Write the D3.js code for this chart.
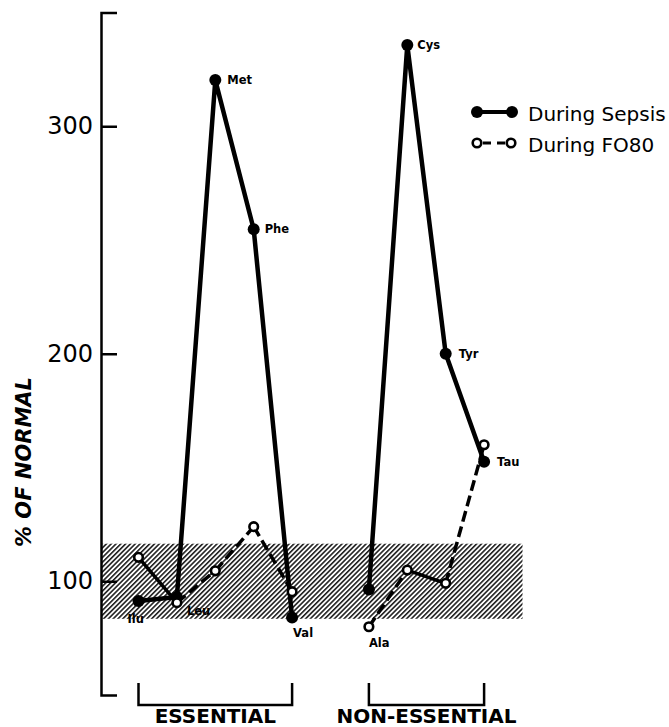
<!DOCTYPE html>
<html>
<head>
<meta charset="utf-8">
<script src="https://cdn.jsdelivr.net/npm/d3@7"></script>
<style>
  body { margin: 0; background: #fff; }
  svg { display: block; }
</style>
</head>
<body>
<svg id="chart" width="669" height="727"></svg>
<script>
// Plasma amino acids, % of normal
const essentialAminoAcids = ["Ilu", "Leu", "Met", "Phe", "Val"];
const nonEssentialAminoAcids = ["Ala", "Cys", "Tyr", "Tau"];
const sepsisEssential = [91.3, 93.1, 320.3, 254.7, 84.1];
const sepsisNonEssential = [96.4, 335.7, 200, 152.5];
const fo80Essential = [110.5, 90.6, 104.6, 124.0, 95.4];
const fo80NonEssential = [80.0, 104.9, 99.1, 160];
const normalRange = [83.5, 116.5];
const yTickValues = [100, 200, 300];
const groupNames = ["ESSENTIAL", "NON-ESSENTIAL"];
const seriesNames = ["During Sepsis", "During FO80"];

// Layout: label offsets from the point they name
const labelLayout = {
  Ilu: { series: "sepsis", dx: -11, dy: 22 },
  Leu: { series: "fo80", dx: 10, dy: 12 },
  Met: { series: "sepsis", dx: 12, dy: 4 },
  Phe: { series: "sepsis", dx: 11, dy: 4 },
  Val: { series: "sepsis", dx: 1, dy: 20 },
  Ala: { series: "fo80", dx: 0, dy: 20 },
  Cys: { series: "sepsis", dx: 10, dy: 4 },
  Tyr: { series: "sepsis", dx: 13, dy: 4 },
  Tau: { series: "sepsis", dx: 13, dy: 4 }
};
// FO80 segments drawn solid (keyed by starting acid); the rest are dashed
const solidFo80From = new Set(["Ilu", "Cys"]);

const groups = [
  { name: groupNames[0], acids: essentialAminoAcids, sepsis: sepsisEssential, fo80: fo80Essential, start: 0 },
  { name: groupNames[1], acids: nonEssentialAminoAcids, sepsis: sepsisNonEssential, fo80: fo80NonEssential,
    start: essentialAminoAcids.length + 1 }
];
const nSlots = essentialAminoAcids.length + 1 + nonEssentialAminoAcids.length;

const svg = d3.select("#chart");
const axisX = 101;

const x = d3.scaleLinear().domain([0, nSlots]).range([138.5, 522.5]);
const y = d3.scaleLinear().domain([50, 350]).range([695, 12.5]);

// Hatched normal range
const defs = svg.append("defs");
const pat = defs.append("pattern")
  .attr("id", "hatch")
  .attr("patternUnits", "userSpaceOnUse")
  .attr("width", 3.4).attr("height", 3.4)
  .attr("patternTransform", "rotate(45)");
pat.append("line")
  .attr("x1", 0.8).attr("y1", 0).attr("x2", 0.8).attr("y2", 3.4)
  .attr("stroke", "#000").attr("stroke-width", 1.4);

svg.append("rect")
  .attr("x", axisX)
  .attr("y", y(normalRange[1]))
  .attr("width", x(nSlots) - axisX)
  .attr("height", y(normalRange[0]) - y(normalRange[1]))
  .attr("fill", "url(#hatch)");

// Y axis as a bracket with inward ticks
const yAxis = d3.axisLeft(y)
  .tickValues(yTickValues)
  .tickSizeInner(-16)
  .tickSizeOuter(-16)
  .tickPadding(8)
  .tickFormat(d3.format("d"));
const gy = svg.append("g").attr("transform", `translate(${axisX},0)`).call(yAxis);
gy.select(".domain").attr("stroke", "#000").attr("stroke-width", 2.5).attr("fill", "none");
gy.selectAll(".tick line").attr("stroke", "#000").attr("stroke-width", 2.5);
gy.selectAll(".tick text")
  .attr("fill", "#000")
  .style("font-family", "'DejaVu Sans', sans-serif")
  .style("font-size", "24px");

svg.append("text")
  .attr("transform", "translate(31,462) rotate(-90)")
  .attr("text-anchor", "middle")
  .style("font-family", "'DejaVu Sans', sans-serif")
  .style("font-size", "21px")
  .style("font-weight", "bold")
  .style("font-style", "italic")
  .text("% OF NORMAL");

// Group brackets and names
groups.forEach(g => {
  const x0 = x(g.start), x1 = x(g.start + g.acids.length - 1);
  svg.append("path")
    .attr("d", `M${x0},683V705H${x1}V683`)
    .attr("fill", "none").attr("stroke", "#000").attr("stroke-width", 2.5);
  svg.append("text")
    .attr("x", (x0 + x1) / 2)
    .attr("y", 723)
    .attr("text-anchor", "middle")
    .style("font-family", "'DejaVu Sans', sans-serif")
    .style("font-size", "20px")
    .style("font-weight", "bold")
    .text(g.name);
});

// Series lines
const line = d3.line().x(d => d.x).y(d => d.y);
const pts = (g, key) => g.acids.map((a, i) => ({ acid: a, x: x(g.start + i), y: y(g[key][i]) }));

groups.forEach(g => {
  svg.append("path")
    .datum(pts(g, "sepsis"))
    .attr("d", line)
    .attr("fill", "none").attr("stroke", "#000")
    .attr("stroke-width", 4.5)
    .attr("stroke-linejoin", "round").attr("stroke-linecap", "round");
});

groups.forEach(g => {
  const p = pts(g, "fo80");
  d3.pairs(p).forEach(([a, b]) => {
    svg.append("path")
      .datum([a, b])
      .attr("d", line)
      .attr("fill", "none").attr("stroke", "#000")
      .attr("stroke-width", 3.5)
      .attr("stroke-dasharray", solidFo80From.has(a.acid) ? null : "11,5");
  });
});

groups.forEach(g => {
  svg.selectAll(null).data(pts(g, "sepsis")).enter().append("circle")
    .attr("cx", d => d.x).attr("cy", d => d.y).attr("r", 6).attr("fill", "#000");
});
groups.forEach(g => {
  svg.selectAll(null).data(pts(g, "fo80")).enter().append("circle")
    .attr("cx", d => d.x).attr("cy", d => d.y).attr("r", 4.3)
    .attr("fill", "#fff").attr("stroke", "#000").attr("stroke-width", 2.6);
});

// Acid labels
groups.forEach(g => {
  const byKey = { sepsis: pts(g, "sepsis"), fo80: pts(g, "fo80") };
  g.acids.forEach((a, i) => {
    const L = labelLayout[a];
    const p = byKey[L.series][i];
    svg.append("text")
      .attr("x", p.x + L.dx)
      .attr("y", p.y + L.dy)
      .style("font-family", "'DejaVu Sans', sans-serif")
      .style("font-size", "11.5px")
      .style("font-weight", "bold")
      .text(a);
  });
});

// Legend
const leg = svg.append("g");
const rows = [112, 143];
leg.append("line").attr("x1", 477).attr("x2", 512).attr("y1", rows[0]).attr("y2", rows[0])
  .attr("stroke", "#000").attr("stroke-width", 4);
[477, 512].forEach(cx => leg.append("circle").attr("cx", cx).attr("cy", rows[0]).attr("r", 6).attr("fill", "#000"));
leg.append("line").attr("x1", 483).attr("x2", 505).attr("y1", rows[1]).attr("y2", rows[1])
  .attr("stroke", "#000").attr("stroke-width", 3).attr("stroke-dasharray", "8,6");
[477, 511].forEach(cx => leg.append("circle").attr("cx", cx).attr("cy", rows[1]).attr("r", 4.3)
  .attr("fill", "#fff").attr("stroke", "#000").attr("stroke-width", 2.6));
seriesNames.forEach((s, i) => {
  leg.append("text")
    .attr("x", 528).attr("y", rows[i] + 9)
    .style("font-family", "'DejaVu Sans', sans-serif")
    .style("font-size", "20px")
    .text(s);
});
</script>
</body>
</html>
